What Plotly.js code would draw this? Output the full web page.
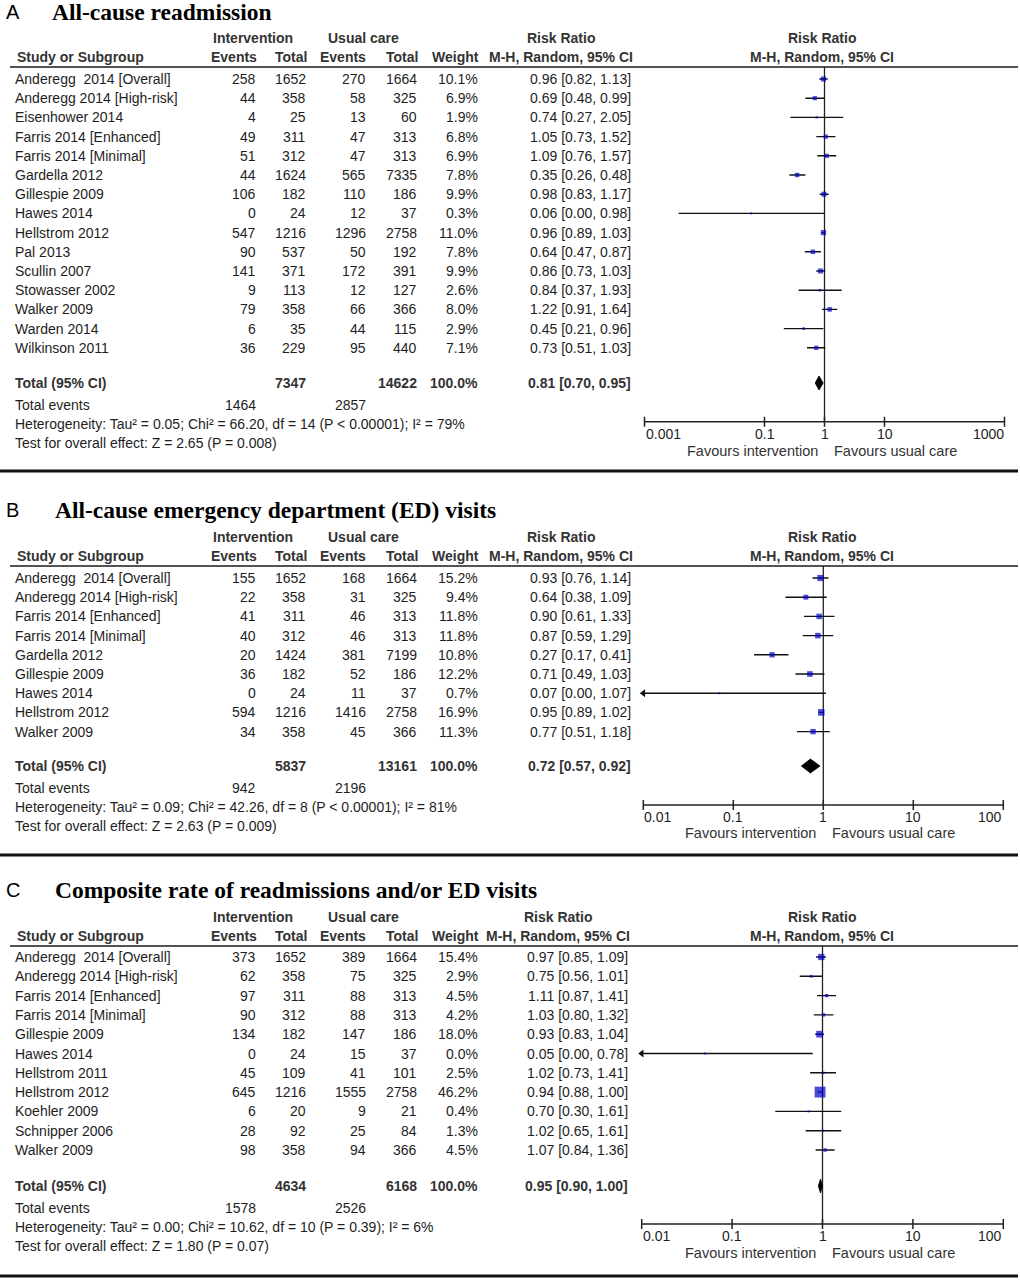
<!DOCTYPE html>
<html><head><meta charset="utf-8">
<script src="https://cdn.plot.ly/plotly-3.0.1.min.js"></script>
<style>html,body{margin:0;padding:0;background:#fff}#chart{width:1020px;height:1280px}</style>
</head><body><div id="chart"></div>
<script>
// ================= DATA =================
// Panel A: All-cause readmission
const titleA = "All-cause readmission";
const studiesA = ["Anderegg\u00a0 2014 [Overall]","Anderegg 2014 [High-risk]","Eisenhower 2014","Farris 2014 [Enhanced]","Farris 2014 [Minimal]","Gardella 2012","Gillespie 2009","Hawes 2014","Hellstrom 2012","Pal 2013","Scullin 2007","Stowasser 2002","Walker 2009","Warden 2014","Wilkinson 2011"];
const intEventsA = [258,44,4,49,51,44,106,0,547,90,141,9,79,6,36];
const intTotalA  = [1652,358,25,311,312,1624,182,24,1216,537,371,113,358,35,229];
const ucEventsA  = [270,58,13,47,47,565,110,12,1296,50,172,12,66,44,95];
const ucTotalA   = [1664,325,60,313,313,7335,186,37,2758,192,391,127,366,115,440];
const weightA    = [10.1,6.9,1.9,6.8,6.9,7.8,9.9,0.3,11.0,7.8,9.9,2.6,8.0,2.9,7.1];
const rrA        = [0.96,0.69,0.74,1.05,1.09,0.35,0.98,0.06,0.96,0.64,0.86,0.84,1.22,0.45,0.73];
const lowA       = [0.82,0.48,0.27,0.73,0.76,0.26,0.83,0.0037,0.89,0.47,0.73,0.37,0.91,0.21,0.51];
const highA      = [1.13,0.99,2.05,1.52,1.57,0.48,1.17,0.98,1.03,0.87,1.03,1.93,1.64,0.96,1.03];
const pooledA    = [0.81,0.70,0.95];
const totalsA    = [7347,14622];
const totalEventsA = [1464,2857];
const heteroA = "Heterogeneity: Tau² = 0.05; Chi² = 66.20, df = 14 (P &lt; 0.00001); I² = 79%";
const testA   = "Test for overall effect: Z = 2.65 (P = 0.008)";
const ticksA  = [0.001,0.1,1,10,1000];
const tickLabelsA = ["0.001","0.1","1","10","1000"];

// Panel B: All-cause ED visits
const titleB = "All-cause emergency department (ED) visits";
const studiesB = ["Anderegg\u00a0 2014 [Overall]","Anderegg 2014 [High-risk]","Farris 2014 [Enhanced]","Farris 2014 [Minimal]","Gardella 2012","Gillespie 2009","Hawes 2014","Hellstrom 2012","Walker 2009"];
const intEventsB = [155,22,41,40,20,36,0,594,34];
const intTotalB  = [1652,358,311,312,1424,182,24,1216,358];
const ucEventsB  = [168,31,46,46,381,52,11,1416,45];
const ucTotalB   = [1664,325,313,313,7199,186,37,2758,366];
const weightB    = [15.2,9.4,11.8,11.8,10.8,12.2,0.7,16.9,11.3];
const rrB        = [0.93,0.64,0.90,0.87,0.27,0.71,0.07,0.95,0.77];
const lowB       = [0.76,0.38,0.61,0.59,0.17,0.49,0.004,0.89,0.51];
const highB      = [1.14,1.09,1.33,1.29,0.41,1.03,1.07,1.02,1.18];
const pooledB    = [0.72,0.57,0.92];
const totalsB    = [5837,13161];
const totalEventsB = [942,2196];
const heteroB = "Heterogeneity: Tau² = 0.09; Chi² = 42.26, df = 8 (P &lt; 0.00001); I² = 81%";
const testB   = "Test for overall effect: Z = 2.63 (P = 0.009)";
const ticksB  = [0.01,0.1,1,10,100];
const tickLabelsB = ["0.01","0.1","1","10","100"];

// Panel C: Composite rate
const titleC = "Composite rate of readmissions and/or ED visits";
const studiesC = ["Anderegg\u00a0 2014 [Overall]","Anderegg 2014 [High-risk]","Farris 2014 [Enhanced]","Farris 2014 [Minimal]","Gillespie 2009","Hawes 2014","Hellstrom 2011","Hellstrom 2012","Koehler 2009","Schnipper 2006","Walker 2009"];
const intEventsC = [373,62,97,90,134,0,45,645,6,28,98];
const intTotalC  = [1652,358,311,312,182,24,109,1216,20,92,358];
const ucEventsC  = [389,75,88,88,147,15,41,1555,9,25,94];
const ucTotalC   = [1664,325,313,313,186,37,101,2758,21,84,366];
const weightC    = [15.4,2.9,4.5,4.2,18.0,0.0,2.5,46.2,0.4,1.3,4.5];
const rrC        = [0.97,0.75,1.11,1.03,0.93,0.05,1.02,0.94,0.70,1.02,1.07];
const lowC       = [0.85,0.56,0.87,0.80,0.83,0.003,0.73,0.88,0.30,0.65,0.84];
const highC      = [1.09,1.01,1.41,1.32,1.04,0.78,1.41,1.00,1.61,1.61,1.36];
const pooledC    = [0.95,0.90,1.00];
const totalsC    = [4634,6168];
const totalEventsC = [1578,2526];
const heteroC = "Heterogeneity: Tau² = 0.00; Chi² = 10.62, df = 10 (P = 0.39); I² = 6%";
const testC   = "Test for overall effect: Z = 1.80 (P = 0.07)";
const ticksC  = [0.01,0.1,1,10,100];
const tickLabelsC = ["0.01","0.1","1","10","100"];

// ================= LAYOUT CONFIG (pixels) =================
const W = 1020, H = 1280;
const SANS = "Liberation Sans, Arial, sans-serif";
const SERIF = "Liberation Serif, Times New Roman, serif";
const TXT = "#1e1e1e", HDR = "#333";
const FS = 14;

const panels = [
  {label:"A", title:titleA, studies:studiesA, ie:intEventsA, it:intTotalA, ue:ucEventsA, ut:ucTotalA, w:weightA, rr:rrA, lo:lowA, hi:highA, pooled:pooledA, totals:totalsA, tev:totalEventsA, het:heteroA, test:testA, ticks:ticksA, tickLabels:tickLabelsA,
   L:{titleY:12, titleX:52, h1:38, h2:57, hline:67, row0:79, dy:19.2, total:383, tev:405, het:424, test:443, axis:421.7, tick:434, fav:451, sep:471, axL:644.5, axR:1004.5, rrRight:631, rrHead:561}},
  {label:"B", title:titleB, studies:studiesB, ie:intEventsB, it:intTotalB, ue:ucEventsB, ut:ucTotalB, w:weightB, rr:rrB, lo:lowB, hi:highB, pooled:pooledB, totals:totalsB, tev:totalEventsB, het:heteroB, test:testB, ticks:ticksB, tickLabels:tickLabelsB,
   L:{titleY:510, titleX:55, h1:537, h2:556, hline:566, row0:578, dy:19.2, total:766, tev:788, het:807, test:826, axis:805, tick:817, fav:833, sep:855, axL:643.3, axR:1003.3, rrRight:631, rrHead:561}},
  {label:"C", title:titleC, studies:studiesC, ie:intEventsC, it:intTotalC, ue:ucEventsC, ut:ucTotalC, w:weightC, rr:rrC, lo:lowC, hi:highC, pooled:pooledC, totals:totalsC, tev:totalEventsC, het:heteroC, test:testC, ticks:ticksC, tickLabels:tickLabelsC,
   L:{titleY:890, titleX:55, h1:917, h2:936, hline:946, row0:957, dy:19.3, total:1186, tev:1208, het:1227, test:1246, axis:1224, tick:1236, fav:1253, sep:1276, axL:641.7, axR:1003.3, rrRight:628, rrHead:558}}
];

// column right edges / positions
const COL = {name:15, ie:256, it:306, ue:366, ut:417, w:478};
const HCOL = {study:17, ie:257, it:307, ue:366, ut:418, w:479, interv:253, usual:363, rr2:822};

const annotations = [], shapes = [], traces = [];
const layout = {width:W, height:H, margin:{l:0,r:0,t:0,b:0}, paper_bgcolor:"#fff", plot_bgcolor:"rgba(0,0,0,0)", showlegend:false, annotations, shapes, hovermode:false};

function txt(x, y, t, anchor, o) {
  o = o || {};
  annotations.push({xref:"paper", yref:"paper", x:x/W, y:1-y/H, text:t, showarrow:false, xanchor:anchor, yanchor:"middle",
    borderpad:0, borderwidth:0, font:{family:o.family||SANS, size:o.size||FS, color:o.color||TXT}});
}
function hline(x0, x1, y, width, color) {
  shapes.push({type:"line", xref:"paper", yref:"paper", x0:x0/W, x1:x1/W, y0:1-y/H, y1:1-y/H, line:{color:color, width:width}});
}
const fmt = v => v.toFixed(2);

panels.forEach((P, k) => {
  const L = P.L;
  const xa = k ? "x"+(k+1) : "x", ya = k ? "y"+(k+1) : "y";
  const xKey = k ? "xaxis"+(k+1) : "xaxis", yKey = k ? "yaxis"+(k+1) : "yaxis";
  const rowOf = px => (px - L.row0) / L.dy;
  const tmin = P.ticks[0], tmax = P.ticks[P.ticks.length-1];
  const lmin = Math.log10(tmin), lmax = Math.log10(tmax);
  const ppd = (L.axR - L.axL) / (lmax - lmin), pad = 6;
  layout[xKey] = {type:"log", domain:[(L.axL-pad)/W, (L.axR+pad)/W], range:[lmin-pad/ppd, lmax+pad/ppd], anchor:ya, visible:false, fixedrange:true};
  const yBot = L.axis + 10;
  layout[yKey] = {domain:[1-yBot/H, 1-L.hline/H], range:[rowOf(yBot), rowOf(L.hline)], anchor:xa, visible:false, fixedrange:true};

  // titles
  txt(6, L.titleY, P.label, "left", {size:20, color:"#000"});
  txt(L.titleX, L.titleY, "<b>"+P.title+"</b>", "left", {size:23.5, family:SERIF, color:"#000"});

  // headers
  const hb = s => "<b>"+s+"</b>";
  txt(HCOL.interv, L.h1, hb("Intervention"), "center", {color:HDR});
  txt(HCOL.usual, L.h1, hb("Usual care"), "center", {color:HDR});
  txt(L.rrHead, L.h1, hb("Risk Ratio"), "center", {color:HDR});
  txt(HCOL.rr2, L.h1, hb("Risk Ratio"), "center", {color:HDR});
  txt(HCOL.study, L.h2, hb("Study or Subgroup"), "left", {color:HDR});
  txt(HCOL.ie, L.h2, hb("Events"), "right", {color:HDR});
  txt(HCOL.it, L.h2, hb("Total"), "right", {color:HDR});
  txt(HCOL.ue, L.h2, hb("Events"), "right", {color:HDR});
  txt(HCOL.ut, L.h2, hb("Total"), "right", {color:HDR});
  txt(HCOL.w, L.h2, hb("Weight"), "right", {color:HDR});
  txt(L.rrHead, L.h2, hb("M-H, Random, 95% CI"), "center", {color:HDR});
  txt(HCOL.rr2, L.h2, hb("M-H, Random, 95% CI"), "center", {color:HDR});
  hline(10, 1018, L.hline, 1.5, "#1a1a1a");
  hline(0, 1018, L.sep, 3, "#111");

  // rows
  const ciX = [], ciY = [], sqX = [], sqY = [], sqS = [], arX = [], arY = [];
  P.studies.forEach((s, i) => {
    const y = L.row0 + i * L.dy;
    txt(COL.name, y, s, "left");
    txt(COL.ie, y, String(P.ie[i]), "right");
    txt(COL.it, y, String(P.it[i]), "right");
    txt(COL.ue, y, String(P.ue[i]), "right");
    txt(COL.ut, y, String(P.ut[i]), "right");
    txt(COL.w, y, P.w[i].toFixed(1)+"%", "right");
    txt(L.rrRight, y, fmt(P.rr[i])+" ["+fmt(P.lo[i])+", "+fmt(P.hi[i])+"]", "right");
    const lo = Math.max(P.lo[i], tmin), hi = Math.min(P.hi[i], tmax);
    ciX.push(lo, hi, null); ciY.push(i, i, null);
    if (P.lo[i] < tmin) { arX.push(tmin); arY.push(i); }
    sqX.push(P.rr[i]); sqY.push(i); sqS.push(Math.max(2, 1.6*Math.sqrt(P.w[i])));
  });

  // totals
  txt(COL.name, L.total, "<b>Total (95% CI)</b>", "left", {color:HDR});
  txt(COL.it, L.total, "<b>"+P.totals[0]+"</b>", "right", {color:HDR});
  txt(COL.ut, L.total, "<b>"+P.totals[1]+"</b>", "right", {color:HDR});
  txt(COL.w, L.total, "<b>100.0%</b>", "right", {color:HDR});
  txt(L.rrRight, L.total, "<b>"+fmt(P.pooled[0])+" ["+fmt(P.pooled[1])+", "+fmt(P.pooled[2])+"]</b>", "right", {color:HDR});
  txt(COL.name, L.tev, "Total events", "left");
  txt(COL.ie, L.tev, String(P.tev[0]), "right");
  txt(COL.ue, L.tev, String(P.tev[1]), "right");
  txt(COL.name, L.het, P.het, "left");
  txt(COL.name, L.test, P.test, "left");

  const axRow = rowOf(L.axis), topRow = rowOf(L.hline);
  // vertical line at 1
  traces.push({type:"scatter", mode:"lines", x:[1,1], y:[topRow, axRow], xaxis:xa, yaxis:ya, line:{color:"#222", width:1.3}, hoverinfo:"skip"});
  // axis line + ticks
  const tkX = [], tkY = [], d = 5 / L.dy;
  P.ticks.forEach(t => { tkX.push(t, t, null); tkY.push(axRow-d, axRow+d, null); });
  traces.push({type:"scatter", mode:"lines", x:[tmin, tmax], y:[axRow, axRow], xaxis:xa, yaxis:ya, line:{color:"#222", width:1.5}, hoverinfo:"skip"});
  traces.push({type:"scatter", mode:"lines", x:tkX, y:tkY, xaxis:xa, yaxis:ya, line:{color:"#222", width:1.5}, hoverinfo:"skip"});
  // CI lines
  traces.push({type:"scatter", mode:"lines", x:ciX, y:ciY, xaxis:xa, yaxis:ya, line:{color:"#111", width:1.4}, connectgaps:false, hoverinfo:"skip"});
  // arrows
  if (arX.length) traces.push({type:"scatter", mode:"markers", x:arX, y:arY, xaxis:xa, yaxis:ya, marker:{symbol:"triangle-left", size:7, color:"#111"}, cliponaxis:false, hoverinfo:"skip"});
  // squares
  traces.push({type:"scatter", mode:"markers", x:sqX, y:sqY, xaxis:xa, yaxis:ya, marker:{symbol:"square", size:sqS, color:"#0000c8", line:{width:0}}, cliponaxis:false, hoverinfo:"skip"});
  // diamond
  const tr = rowOf(L.total), h = 7 / L.dy;
  traces.push({type:"scatter", mode:"lines", x:[P.pooled[1], P.pooled[0], P.pooled[2], P.pooled[0], P.pooled[1]], y:[tr, tr-h, tr, tr+h, tr], xaxis:xa, yaxis:ya, fill:"toself", fillcolor:"#000", line:{color:"#000", width:0.8}, hoverinfo:"skip"});

  // tick labels
  P.ticks.forEach((t, j) => {
    const anchor = j === 0 ? "left" : (j === P.ticks.length-1 ? "right" : "center");
    annotations.push({xref:xa, yref:"paper", x:Math.log10(t), y:1-L.tick/H, text:P.tickLabels[j], showarrow:false, xanchor:anchor, yanchor:"middle", borderpad:0, font:{family:SANS, size:14, color:TXT}});
  });
  // favours labels
  annotations.push({xref:xa, yref:"paper", x:0, y:1-L.fav/H, text:"Favours intervention", showarrow:false, xanchor:"right", yanchor:"middle", xshift:-6, borderpad:0, font:{family:SANS, size:14.5, color:"#333"}});
  annotations.push({xref:xa, yref:"paper", x:0, y:1-L.fav/H, text:"Favours usual care", showarrow:false, xanchor:"left", yanchor:"middle", xshift:8, borderpad:0, font:{family:SANS, size:14.5, color:"#333"}});
});

Plotly.newPlot("chart", traces, layout, {staticPlot:true, displayModeBar:false});
</script>
</body></html>
